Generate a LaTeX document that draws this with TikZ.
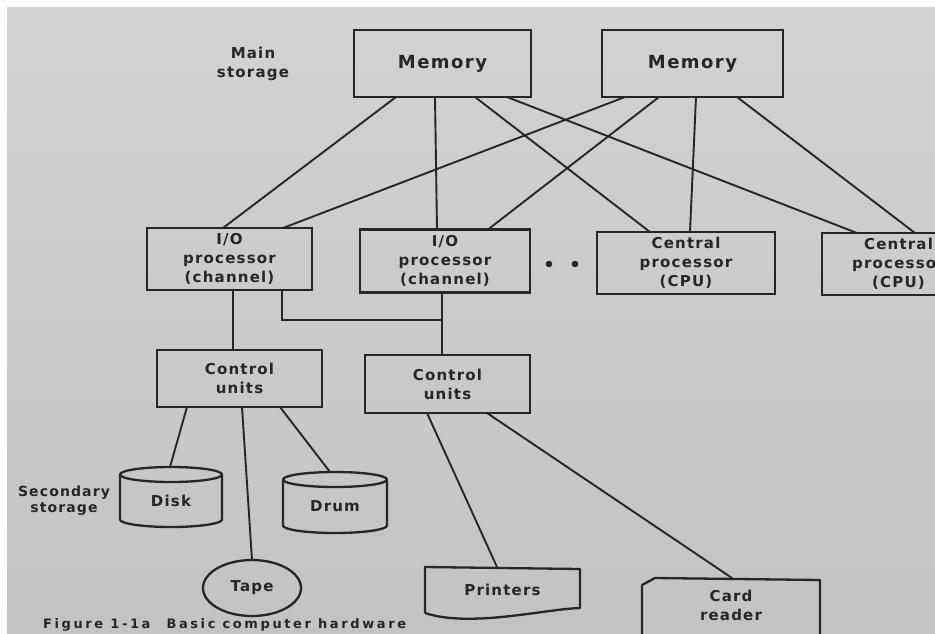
\documentclass[tikz,border=0pt]{standalone}
\usepackage{fontspec}
\usetikzlibrary{shapes.geometric}
\newfontfamily\lbl[LetterSpace=8]{DejaVu Sans Bold}
\newfontfamily\capfont[LetterSpace=20]{DejaVu Sans Bold}
\definecolor{inkc}{HTML}{262626}
\definecolor{paperA}{HTML}{D2D2D2}
\definecolor{paperB}{HTML}{C3C3C3}
\tikzset{
  ink/.style={draw=inkc, line width=2.3pt, line join=round},
  link/.style={draw=inkc, line width=1.9pt, line cap=round},
  txt/.style={text=inkc, align=center, inner sep=0pt, outer sep=0pt,
    font=\lbl\fontsize{15}{19}\selectfont},
  box/.style={txt, rectangle, draw=inkc, line width=2.5pt},
  bigtxt/.style={font=\lbl\fontsize{18}{20}\selectfont},
  bare/.style={txt, rectangle},
}
\begin{document}
\begin{tikzpicture}[x=1pt, y=1pt]
\useasboundingbox (0,0) rectangle (935,-633);
\clip (0,0) rectangle (935,-633);
% paper
\fill[white] (0,0) rectangle (935,-633);
\shade[top color=paperA, bottom color=paperB] (7,-7) rectangle (935,-633);

% main storage
\node[box, bigtxt, minimum width=177, minimum height=67] (mem1) at (442.5,-63.5) {Memory};
\node[box, bigtxt, minimum width=181, minimum height=67] (mem2) at (692.5,-63.5) {Memory};
\node[bare] (mainlbl) at (253,-64) {Main\\storage};

% processors
\node[box, minimum width=165, minimum height=62] (io1) at (229.5,-259) {I/O\\processor\\(channel)};
\node[box, minimum width=170, minimum height=63] (io2) at (445,-261) {I/O\\processor\\(channel)};
\node[box, minimum width=178, minimum height=62] (cpu1) at (686,-263) {Central\\processor\\(CPU)};
\node[box, minimum width=153, minimum height=62] (cpu2) at (898.5,-264) {Central\\processor\\(CPU)};
\fill[inkc] (549,-264) circle (3.3);
\fill[inkc] (575,-264) circle (3.3);

% control units
\node[box, minimum width=165, minimum height=57] (cu1) at (239.5,-378.5) {Control\\units};
\node[box, minimum width=165, minimum height=58] (cu2) at (447.5,-384) {Control\\units};

% secondary storage devices
\node[bare, minimum width=102, minimum height=52.5] (disk) at (171,-500.75) {Disk};
\node[bare, minimum width=104, minimum height=53.5] (drum) at (335,-506.25) {Drum};
\node[txt, ellipse, draw=inkc, line width=2.3pt, minimum width=98, minimum height=56] (tape) at (252,-588) {Tape};
\node[bare, font=\lbl\fontsize{14}{16}\selectfont] (seclbl) at (64,-501) {Secondary\\storage};

\foreach \c/\r in {disk/51, drum/52} {
  \draw[ink] (\c.north) ellipse [x radius=\r, y radius=7.5];
  \draw[ink] (\c.north west) -- ([yshift=7.5]\c.south west)
    arc [start angle=180, end angle=360, x radius=\r, y radius=7.5]
    -- (\c.north east);
}

% unit record devices
\node[bare, minimum width=155, minimum height=46] (printers) at (502.5,-590) {Printers};
\draw[ink] (printers.south west) -- (printers.north west) -- ([yshift=-2]printers.north east)
  -- ([yshift=5]printers.south east) .. controls +(-35,-1) and +(45,-15) .. (printers.south west);
\node[bare, minimum width=178, minimum height=54] (card) at (731,-605) {Card\\reader};
\draw[ink] ([yshift=-14]card.south west) -- ([yshift=-7]card.north west)
  -- ([xshift=13]card.north west) -- ([yshift=-2]card.north east) -- ([yshift=-14]card.south east);

% memory buses
\draw[link] ([xshift=-46.5]mem1.south) -- ([xshift=-6.5]io1.north);
\draw[link] ([xshift=-7.5]mem1.south) -- ([xshift=-8]io2.north);
\draw[link] ([xshift=32.5]mem1.south) -- ([xshift=-36]cpu1.north);
\draw[link] ([xshift=64.5]mem1.south) -- ([xshift=-41.5]cpu2.north);
\draw[link] ([xshift=-67.5]mem2.south) -- ([xshift=53.5]io1.north);
\draw[link] ([xshift=-33.5]mem2.south) -- ([xshift=43]io2.north);
\draw[link] ([xshift=3.5]mem2.south) -- ([xshift=4]cpu1.north);
\draw[link] ([xshift=44.5]mem2.south) -- ([xshift=16.5]cpu2.north);

% channels to control units
\coordinate (jn) at (442,-320);
\draw[link] ([xshift=3.5]io1.south) -- ([xshift=-6.5]cu1.north);
\draw[link] ([xshift=52.5]io1.south) |- (jn);
\draw[link] ([xshift=-3]io2.south) -- ([xshift=-5.5]cu2.north);

% control units to devices
\draw[link] ([xshift=-52.5]cu1.south) -- ([xshift=-1,yshift=7.5]disk.north);
\draw[link] ([xshift=2.5]cu1.south) -- (tape.north);
\draw[link] ([xshift=40.5]cu1.south) -- ([xshift=-5,yshift=7.5]drum.north);
\draw[link] ([xshift=-20.5]cu2.south) -- ([xshift=-5.5]printers.north);
\draw[link] ([xshift=39.5]cu2.south) -- ([xshift=1]card.north);

% caption
\node[anchor=base west, inner sep=0pt, text=inkc, font=\capfont\fontsize{13}{15}\selectfont] (cap)
  at (43,-628) {Figure 1-1a\hspace{16pt}Basic computer hardware};
\end{tikzpicture}
\end{document}
